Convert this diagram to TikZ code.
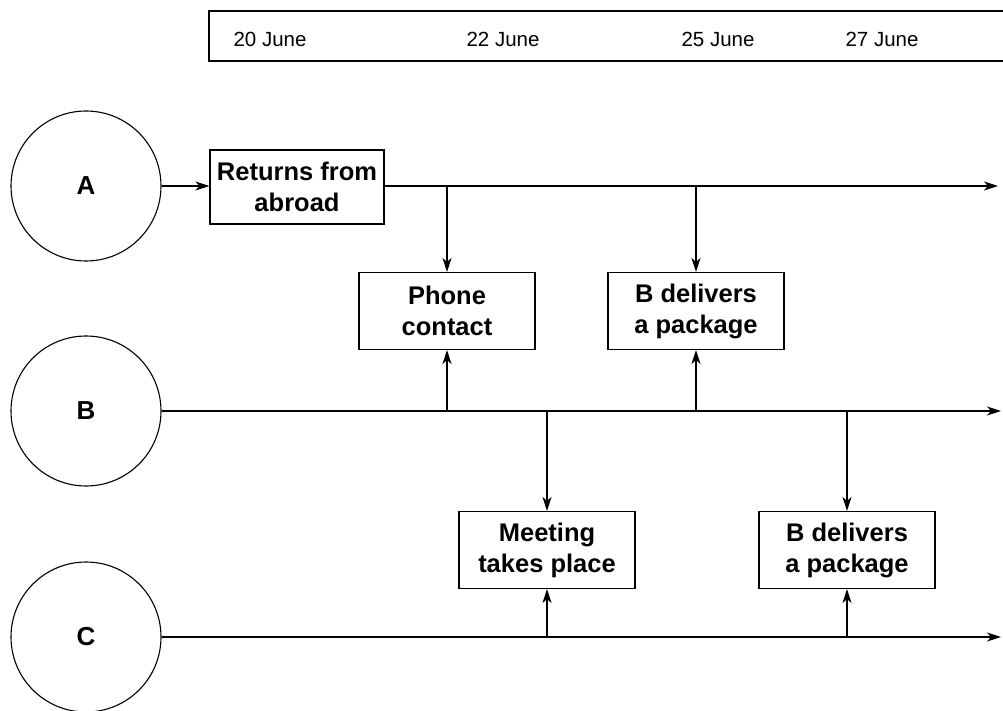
\documentclass[tikz,border=0pt]{standalone}
\usepackage{fontspec}
\setmainfont{Liberation Sans}
\usetikzlibrary{arrows.meta}
\begin{document}
\begin{tikzpicture}[x=1pt,y=-1pt,
  every path/.style={line width=1.1pt},
  arr/.style={-{Stealth[length=14pt,width=9pt,inset=4pt]}},
  ev/.style={draw, line width=1.1pt, minimum width=176pt, minimum height=77pt, inner sep=0pt, align=center, font=\fontsize{25.5}{31}\selectfont\bfseries},
  who/.style={draw, circle, line width=1.1pt, minimum size=150pt, inner sep=0pt, font=\fontsize{26}{30}\selectfont\bfseries},
  date/.style={anchor=west, inner sep=0pt, font=\fontsize{20.5}{24}\selectfont}]
\useasboundingbox (0,0) rectangle (1003,711);
% timeline header
\draw (1010,11) -- (209,11) -- (209,61) -- (1010,61);
\node[date] (d20) at (233,39) {20 June};
\node[date] (d22) at (466,39) {22 June};
\node[date] (d25) at (681,39) {25 June};
\node[date] (d27) at (845,39) {27 June};
% actors
\node[who] (A) at (86,186) {A};
\node[who] (B) at (86,411) {B};
\node[who] (C) at (86,637) {C};
% events
\node[ev, minimum width=174pt, minimum height=74pt] (R) at (297,187) {Returns from\\abroad};
\node[ev] (P) at (447,311) {Phone\\contact};
\node[ev] (D1) at (696,311) {B delivers\\a package};
\node[ev] (M) at (547,550) {Meeting\\takes place};
\node[ev] (D2) at (847,550) {B delivers\\a package};
% end points
\coordinate (Aend) at (998,186);
\coordinate (Bend) at (1001,411);
\coordinate (Cend) at (1001,637);
% A line
\draw[arr] (A.east) -- (R.west |- A.center);
\draw[arr] (R.east |- A.center) -- (Aend);
\draw[arr] (P.north |- A.center) -- (P.north);
\draw[arr] (D1.north |- A.center) -- (D1.north);
% B line
\draw[arr] (B.east) -- (Bend);
\draw[arr] (P.south |- B.center) -- (P.south);
\draw[arr] (D1.south |- B.center) -- (D1.south);
\draw[arr] (M.north |- B.center) -- (M.north);
\draw[arr] (D2.north |- B.center) -- (D2.north);
% C line
\draw[arr] (C.east) -- (Cend);
\draw[arr] (M.south |- C.center) -- (M.south);
\draw[arr] (D2.south |- C.center) -- (D2.south);
\end{tikzpicture}
\end{document}
